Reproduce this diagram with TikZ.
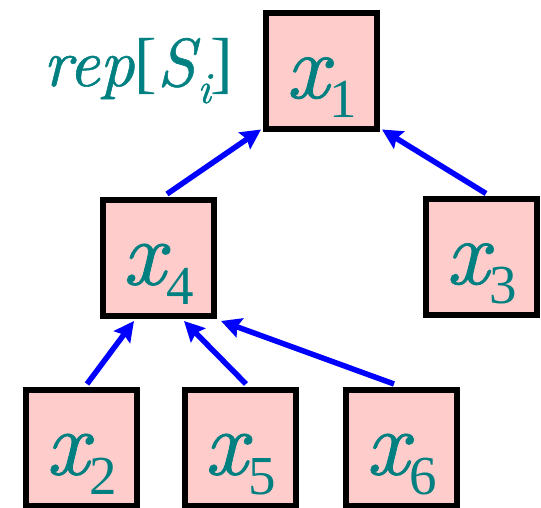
\documentclass[tikz,border=0pt]{standalone}
\usepackage{fontspec}
\newfontfamily\timesup{Liberation Serif}
\newfontfamily\xit{lmroman10-italic.otf}[FakeBold=0.8]
\usetikzlibrary{arrows.meta}
\definecolor{pinkfill}{HTML}{FFCCCC}
\definecolor{tealtext}{HTML}{008080}
\newcommand\xsub[1]{{\fontsize{92}{94}\selectfont\xit x}\kern1pt\raisebox{-20pt}{\fontsize{55}{56}\selectfont\timesup #1}}
\begin{document}
\begin{tikzpicture}[x=1pt,y=1pt,
  varbox/.style={draw=black, line width=6pt, fill=pinkfill, minimum width=111pt, minimum height=116pt,
    inner sep=0pt, text=tealtext, text height=60pt, text depth=7pt, align=center},
  parentarrow/.style={draw=blue, line width=5.5pt, -{Stealth[length=20pt,width=20pt,inset=3pt]}},
  replabel/.style={text=tealtext, inner sep=0pt, anchor=base west}]
\useasboundingbox (0,0) rectangle (541,508);
\node[varbox] (x1) at (321.5,436.5) {\xsub{1}};
\node[varbox] (x4) at (158,250) {\xsub{4}};
\node[varbox] (x3) at (481.5,250.5) {\xsub{3}};
\node[varbox] (x2) at (81.5,60) {\xsub{2}};
\node[varbox] (x5) at (240,60) {\xsub{5}};
\node[varbox] (x6) at (401.5,60) {\xsub{6}};
\node[replabel] (rep) at (43,422) {\fontsize{68}{70}\selectfont{\xit rep}{\timesup[}{\xit S}\kern2pt\raisebox{-17pt}{\fontsize{44}{45}\selectfont\xit i}{\timesup]}};
\draw[parentarrow] ([shift={(9pt,3pt)}]x4.north) -- ([shift={(-2pt,3pt)}]x1.south west);
\draw[parentarrow] ([shift={(4.5pt,3pt)}]x3.north) -- ([shift={(2pt,3pt)}]x1.south east);
\draw[parentarrow] ([shift={(5.5pt,3pt)}]x2.north) -- ([shift={(-24pt,-2pt)}]x4.south);
\draw[parentarrow] ([shift={(6pt,3pt)}]x5.north) -- ([shift={(26pt,-2pt)}]x4.south);
\draw[parentarrow] ([shift={(-7.5pt,3pt)}]x6.north) -- ([shift={(4.5pt,-2pt)}]x4.south east);
\end{tikzpicture}
\end{document}
